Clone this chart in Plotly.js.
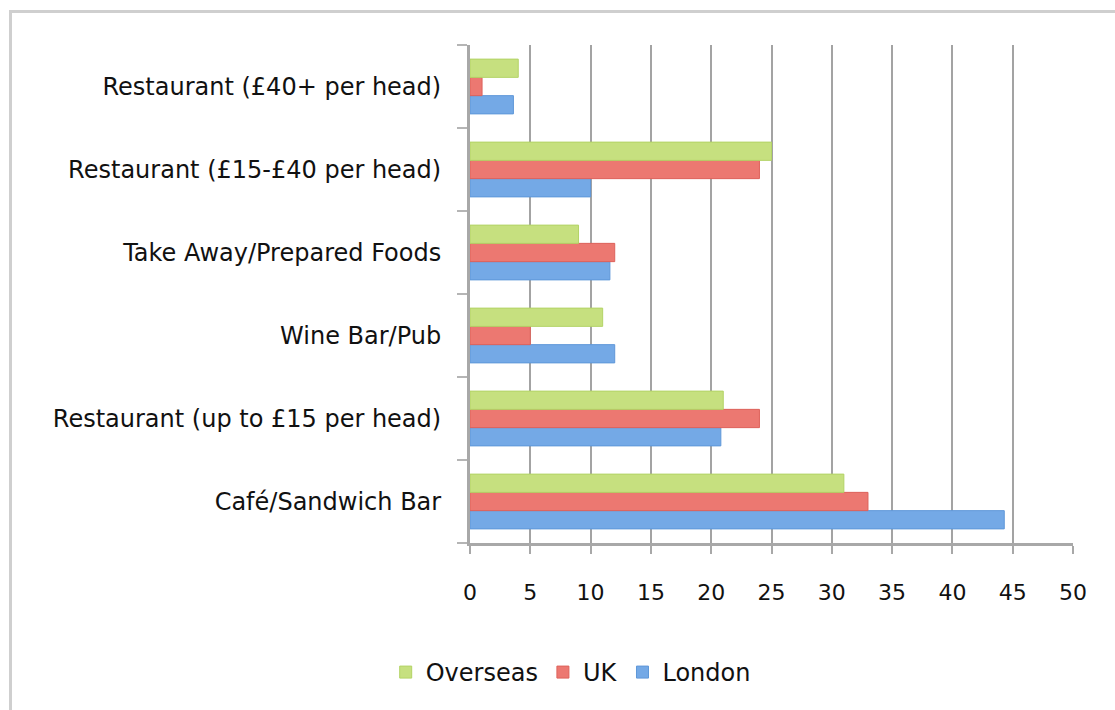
<!DOCTYPE html>
<html>
<head>
<meta charset="utf-8">
<script src="https://cdn.plot.ly/plotly-3.0.1.min.js"></script>
<style>
  html, body { margin: 0; padding: 0; background: #fff; }
  #frame { position: absolute; left: 9px; top: 10px; width: 1200px; height: 800px;
           border-top: 3px solid #cfcfcf; border-left: 3px solid #cfcfcf; }
  #chart { position: absolute; left: 0; top: 0; width: 1115px; height: 710px; }
</style>
</head>
<body>
<div id="frame"></div>
<div id="chart"></div>
<script>
const categories = [
  "Café/Sandwich Bar",
  "Restaurant (up to £15 per head)",
  "Wine Bar/Pub",
  "Take Away/Prepared Foods",
  "Restaurant (£15-£40 per head)",
  "Restaurant (£40+ per head)"
];
const london   = [44.3, 20.8, 12, 11.6, 10, 3.6];
const uk       = [33, 24, 5, 12, 24, 1];
const overseas = [31, 21, 11, 9, 25, 4];
const xTicks = [0, 5, 10, 15, 20, 25, 30, 35, 40, 45, 50];

const font = "DejaVu Sans, Verdana, sans-serif";

const traces = [
  { name: "London", y: categories, x: london, type: "bar", orientation: "h",
    marker: { color: "#74a9e6", line: { color: "#5f97d8", width: 1 } } },
  { name: "UK", y: categories, x: uk, type: "bar", orientation: "h",
    marker: { color: "#ec7871", line: { color: "#dd625b", width: 1 } } },
  { name: "Overseas", y: categories, x: overseas, type: "bar", orientation: "h",
    marker: { color: "#c6e07f", line: { color: "#b3d366", width: 1 } } }
];

const layout = {
  width: 1115, height: 710,
  paper_bgcolor: "rgba(0,0,0,0)",
  plot_bgcolor: "rgba(0,0,0,0)",
  margin: { l: 470, r: 42, t: 45, b: 167 },
  barmode: "group",
  bargap: 0.34,
  bargroupgap: 0,
  font: { family: font, size: 22, color: "#111" },
  showlegend: true,
  legend: {
    orientation: "h", traceorder: "reversed",
    x: 0.167, xanchor: "center", y: -0.26, yanchor: "middle",
    font: { family: font, size: 24, color: "#111" },
    itemwidth: 30
  },
  xaxis: {
    range: [0, 50], tickvals: xTicks, ticktext: xTicks.map(String),
    showgrid: true, gridcolor: "#a3a3a3", gridwidth: 2,
    zeroline: false, showline: true, linecolor: "#a8a8a8", linewidth: 3,
    ticks: "outside", ticklen: 8, tickcolor: "#a8a8a8", tickwidth: 2,
    ticklabelstandoff: 20,
    tickfont: { family: font, size: 22, color: "#111" },
    fixedrange: true
  },
  yaxis: {
    type: "category", categoryorder: "array", categoryarray: categories,
    showgrid: false, zeroline: false, showline: true, linecolor: "#a8a8a8", linewidth: 3,
    ticks: "outside", tickson: "boundaries", ticklen: 10, tickcolor: "#b5b5b5", tickwidth: 2,
    ticklabelstandoff: 21,
    tickfont: { family: font, size: 24, color: "#111" },
    fixedrange: true
  }
};

Plotly.newPlot("chart", traces, layout, { displayModeBar: false, staticPlot: true });
</script>
</body>
</html>
